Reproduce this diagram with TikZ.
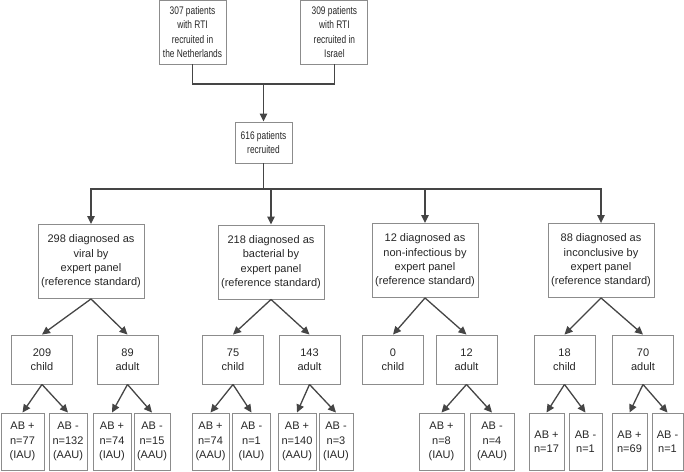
\documentclass[tikz,border=0pt]{standalone}
\usepackage{fontspec}
\setmainfont{Liberation Sans}
\newfontfamily\narrowfont[FakeStretch=0.76]{Liberation Sans}
\usetikzlibrary{positioning,arrows.meta}
\definecolor{linegray}{HTML}{454545}
\definecolor{boxgray}{HTML}{8C8C8C}
\definecolor{textgray}{HTML}{262626}
\tikzset{
	box/.style={draw=boxgray, line width=0.9pt, inner sep=0pt, align=center, text=textgray,
		font=\fontsize{11}{14.3}\selectfont},
	topbox/.style={box, font=\narrowfont\fontsize{11}{14.2}\selectfont},
	catbox/.style={box, minimum width=106pt, minimum height=74pt},
	grpbox/.style={box, minimum width=61pt, minimum height=49pt},
	leafbox/.style={box, minimum width=#1, minimum height=57pt},
	con/.style={draw=linegray, line width=1.3pt},
	arr/.style={con, -{Triangle[length=8pt,width=7.5pt]}},
}
\begin{document}
\begin{tikzpicture}[x=1pt,y=-1pt]
	\useasboundingbox (0,0) rectangle (684,471);
	%% recruitment
	\node[topbox, minimum width=67pt, minimum height=64pt] (t1) at (192.5,32) {307 patients\\with RTI\\recruited in\\the Netherlands};
	\node[topbox, minimum width=67pt, minimum height=64pt, right=74pt of t1] (t2) {309 patients\\with RTI\\recruited in\\Israel};
	\node[topbox, minimum width=57pt, minimum height=41pt] (r1) at (263.5,142.5) {616 patients\\recruited};
	\coordinate (j1) at (263.5,84);
	\coordinate (j2) at (263.5,189);
	%% expert panel
	\node[catbox] (d1) at (91,261.5) {298 diagnosed as\\viral by\\expert panel\\(reference standard)};
	\node[catbox] (d2) at (271,262) {218 diagnosed as\\bacterial by\\expert panel\\(reference standard)};
	\node[catbox] (d3) at (425,260.5) {12 diagnosed as\\non-infectious by\\expert panel\\(reference standard)};
	\node[catbox] (d4) at (601,260.5) {88 diagnosed as\\inconclusive by\\expert panel\\(reference standard)};
	%% child / adult
	\node[grpbox] (g1) at (42,359.5) {209\\child};
	\node[grpbox] (g2) at (127.5,359.5) {89\\adult};
	\node[grpbox] (g3) at (233,359.5) {75\\child};
	\node[grpbox] (g4) at (309.5,359.5) {143\\adult};
	\node[grpbox] (g5) at (393,359.5) {0\\child};
	\node[grpbox] (g6) at (466.5,359.5) {12\\adult};
	\node[grpbox] (g7) at (564.5,359.5) {18\\child};
	\node[grpbox] (g8) at (643,359.5) {70\\adult};
	%% antibiotics
	\node[leafbox=43pt] (n1) at (22.5,441.5) {AB +\\n=77\\(IAU)};
	\node[leafbox=38pt] (n2) at (68,441.5) {AB -\\n=132\\(AAU)};
	\node[leafbox=38pt] (n3) at (112,441.5) {AB +\\n=74\\(IAU)};
	\node[leafbox=36pt] (n4) at (152,441.5) {AB -\\n=15\\(AAU)};
	\node[leafbox=37pt] (n5) at (210.5,441.5) {AB +\\n=74\\(AAU)};
	\node[leafbox=38pt] (n6) at (251.5,441.5) {AB -\\n=1\\(IAU)};
	\node[leafbox=38pt] (n7) at (297,441.5) {AB +\\n=140\\(AAU)};
	\node[leafbox=34pt] (n8) at (336,441.5) {AB -\\n=3\\(IAU)};
	\node[leafbox=45pt] (n9) at (441.5,441.5) {AB +\\n=8\\(IAU)};
	\node[leafbox=44pt] (n10) at (492,441.5) {AB -\\n=4\\(AAU)};
	\node[leafbox=35pt] (n11) at (546.5,441.5) {AB +\\n=17};
	\node[leafbox=33pt] (n12) at (585.5,441.5) {AB -\\n=1};
	\node[leafbox=35pt] (n13) at (629.5,441.5) {AB +\\n=69};
	\node[leafbox=31pt] (n14) at (667.5,441.5) {AB -\\n=1};
	% connectors
	\draw[con] (t1.south) |- (j1) -| (t2.south);
	\draw[arr] (j1) -- (r1.north);
	\draw[con] (r1.south) -- (j2);
	\foreach \d in {d1,d2,d3,d4}
		\draw[arr] (j2) -| (\d.north);
	\foreach \p/\c in {d1/g1,d1/g2,d2/g3,d2/g4,d3/g5,d3/g6,d4/g7,d4/g8,
		g1/n1,g1/n2,g2/n3,g2/n4,g3/n5,g3/n6,g4/n7,g4/n8,
		g6/n9,g6/n10,g7/n11,g7/n12,g8/n13,g8/n14}
		\draw[arr] (\p.south) -- (\c.north);
\end{tikzpicture}
\end{document}
